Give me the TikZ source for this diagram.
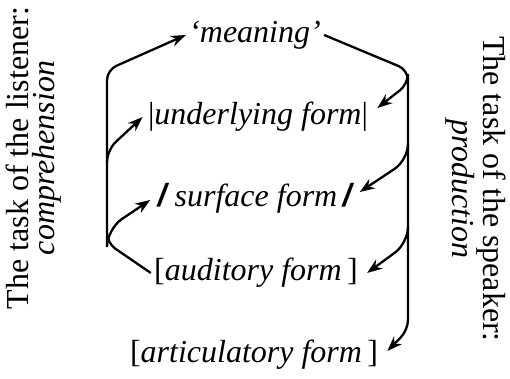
\documentclass[tikz,border=0pt]{standalone}
\usepackage{fontspec}
\setmainfont{Liberation Serif}
\setsansfont{Liberation Sans}
\usetikzlibrary{arrows.meta}
\begin{document}
\begin{tikzpicture}[x=0.5pt,y=-0.5pt,
  lbl/.style={font=\fontsize{16}{16}\selectfont, inner sep=1.5pt},
  side/.style={font=\fontsize{16}{13}\selectfont, align=center, inner sep=0pt},
  conn/.style={line width=1.15pt, rounded corners=5pt},
  arr/.style={conn, -{Stealth[length=7.5pt,width=5.5pt]}}]
\useasboundingbox (0,0) rectangle (510,379);
\node[lbl] (mean) at (255,35) {\textit{`meaning'}};
\node[lbl] (und) at (258,117) {\textbar\textit{underlying form}\/\textbar};
\node[lbl] (surf) at (256,198) {\textsf{\bfseries\itshape /}\,\textit{surface form}\,\textsf{\bfseries\itshape /}};
\node[lbl] (aud) at (256,273) {[\textit{auditory form}\/\,]};
\node[lbl] (art) at (254,355) {[\textit{articulatory form}\/\,]};
\node[side, rotate=90] (lis) at (34,158) {The task of the listener:\\\textit{comprehension}};
\node[side, rotate=-90] (spk) at (476,189) {The task of the speaker:\\\textit{production}};
% listener
\coordinate (lb) at (107,243);
\coordinate (lt) at (107,70);
\draw[arr] (aud.west) -- (lb) -- (lt) -- (mean.west);
\draw[arr, rounded corners=6pt] (107,162) -- (107,150) -- ([xshift=-1pt]und.west);
\draw[arr, rounded corners=9pt] (107,236) -- (107,229) -- ([xshift=-2pt,yshift=-1pt]surf.west);
% speaker
\coordinate (rt) at (408,70);
\coordinate (rb) at (408,330);
\draw[arr] (mean.east) -- (rt) -- (rb) -- ([xshift=3pt,yshift=2pt]art.east);
\draw[arr, rounded corners=5pt] (408,79) -- (408,84) -- ([xshift=3pt,yshift=4.5pt]und.east);
\draw[arr, rounded corners=8pt] (408,148) -- (408,160) -- ([xshift=1pt,yshift=3pt]surf.east);
\draw[arr, rounded corners=8pt] (408,230) -- (408,243) -- ([xshift=3pt,yshift=0pt]aud.east);
\end{tikzpicture}
\end{document}
